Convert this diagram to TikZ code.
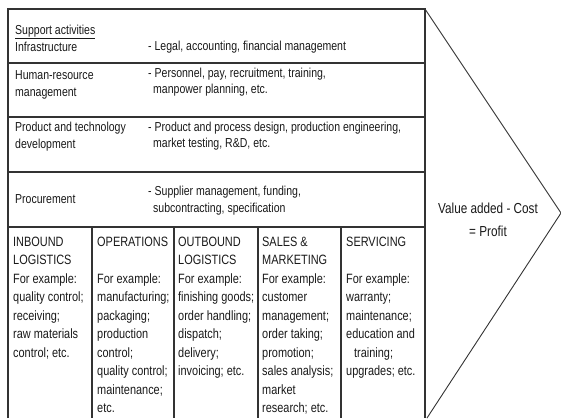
\documentclass[tikz,border=0pt]{standalone}
\usepackage{fontspec}
\setmainfont[FakeStretch=0.81]{Liberation Sans}
\begin{document}
\begin{tikzpicture}[x=1pt,y=-1pt,
  frame/.style={draw=black!80, line width=1.3pt},
  chev/.style={draw=black!80, line width=0.9pt},
  txt/.style={inner sep=0pt, anchor=base west, align=left, text=black!90,
    font=\fontsize{13}{17}\selectfont},
  coltxt/.style={txt, font=\fontsize{13.5}{18.5}\selectfont},
  contxt/.style={txt, font=\fontsize{13}{16}\selectfont}]
\useasboundingbox (0,0) rectangle (561,418);
% frame coordinates
\coordinate (tl) at (8,9);
\coordinate (tr) at (425,9);
\coordinate (bl) at (8,418);
\coordinate (br) at (425,418);
\coordinate (tip) at (561,213);
\coordinate (cb) at (427,418);
\draw[frame] (bl) -- (tl) -- (tr) -- (br);
\foreach \y/\n in {63/a,117/b,172/c,227/d}{
  \coordinate (h\n l) at (8,\y);
  \coordinate (h\n r) at (425,\y);
  \draw[frame] (h\n l) -- (h\n r);
}
\foreach \x/\n in {92/a,174/b,258/c,341/d}{
  \coordinate (v\n t) at (\x,227);
  \coordinate (v\n b) at (\x,418);
  \draw[frame] (v\n t) -- (v\n b);
}
\draw[chev] (tr) -- (tip) -- (cb);
% support rows (anchor = baseline of the last line)
\node[txt] (sup) at (15,51.5) {\underline{Support activities}\\Infrastructure};
\node[txt] (legal) at (148,50) {- Legal, accounting, financial management};
\node[txt] (hr) at (15,96.5) {Human-resource\\management};
\node[contxt] (pers) at (148,93.5) {- Personnel, pay, recruitment, training,\\\hspace*{5pt}manpower planning, etc.};
\node[txt] (ptd) at (15,148.5) {Product and technology\\development};
\node[contxt] (ppd) at (148,147.5) {- Product and process design, production engineering,\\\hspace*{5pt}market testing, R\&D, etc.};
\node[txt] (proc) at (15,203.5) {Procurement};
\node[txt] (supp) at (148,212.5) {- Supplier management, funding,\\\hspace*{5pt}subcontracting, specification};
% primary activities (first baseline 246, skip 18.5)
\node[coltxt] (inb) at (13,357) {INBOUND\\LOGISTICS\\For example:\\quality control;\\receiving;\\raw materials\\control; etc.};
\node[coltxt] (ops) at (97,412.5) {OPERATIONS\\\strut\\For example:\\manufacturing;\\packaging;\\production\\control;\\quality control;\\maintenance;\\etc.};
\node[coltxt] (outb) at (178,375.5) {OUTBOUND\\LOGISTICS\\For example:\\finishing goods;\\order handling;\\dispatch;\\delivery;\\invoicing; etc.};
\node[coltxt] (sales) at (262,412.5) {SALES \&\\MARKETING\\For example:\\customer\\management;\\order taking;\\promotion;\\sales analysis;\\market\\research; etc.};
\node[coltxt] (serv) at (346,375.5) {SERVICING\\\strut\\For example:\\warranty;\\maintenance;\\education and\\\hspace*{8pt}training;\\upgrades; etc.};
% margin
\node[txt, anchor=base, align=center, font=\fontsize{14.5}{22.5}\selectfont] (val) at (488,236) {Value added - Cost\\= Profit};
\end{tikzpicture}
\end{document}
